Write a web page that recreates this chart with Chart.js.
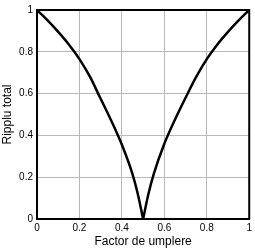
<!DOCTYPE html>
<html>
<head>
<meta charset="utf-8">
<script src="https://cdn.jsdelivr.net/npm/chart.js@4.4.1/dist/chart.umd.min.js"></script>
<style>
  html, body { margin: 0; padding: 0; background: #fff; }
  #wrap { width: 255px; height: 249px; }
</style>
</head>
<body>
<div id="wrap"><canvas id="myChart" width="255" height="249"></canvas></div>
<script>
// duty factor (x) and total ripple (y)
const factor = [0, 0.05, 0.1, 0.15, 0.2, 0.25, 0.3, 0.35, 0.4, 0.45, 0.475, 0.5,
                0.525, 0.55, 0.6, 0.65, 0.7, 0.75, 0.8, 0.85, 0.9, 0.95, 1];
const ripple = [1, 0.95, 0.895, 0.835, 0.765, 0.68, 0.575, 0.47, 0.355, 0.215, 0.12, 0,
                0.12, 0.215, 0.36, 0.475, 0.58, 0.68, 0.765, 0.835, 0.895, 0.95, 1];
const tickValues = [0, 0.2, 0.4, 0.6, 0.8, 1];

const points = factor.map((x, i) => ({ x: x, y: ripple[i] }));
// two halves so the smoothing keeps the sharp tip at 0.5
const leftHalf = points.filter(p => p.x <= 0.5);
const rightHalf = points.filter(p => p.x >= 0.5);

// black frame round the plot area
const frame = {
  id: 'frame',
  afterDraw(chart) {
    const a = chart.chartArea;
    const ctx = chart.ctx;
    ctx.save();
    ctx.strokeStyle = '#000';
    ctx.lineWidth = 2;
    ctx.strokeRect(a.left, a.top, a.right - a.left, a.bottom - a.top);
    ctx.restore();
  }
};

const tickFont = { family: 'Liberation Sans', size: 10 };
const titleFont = { family: 'Liberation Sans', size: 12 };

const lineStyle = {
  borderColor: '#000',
  borderWidth: 2.5,
  pointRadius: 0,
  cubicInterpolationMode: 'monotone',
  fill: false
};

const config = {
  type: 'line',
  data: {
    datasets: [
      Object.assign({ data: leftHalf }, lineStyle),
      Object.assign({ data: rightHalf }, lineStyle)
    ]
  },
  options: {
    responsive: false,
    animation: false,
    layout: { padding: { top: 4, right: 2, left: 0, bottom: 0 } },
    plugins: { legend: { display: false }, tooltip: { enabled: false } },
    scales: {
      x: {
        type: 'linear', min: 0, max: 1,
        afterBuildTicks: s => { s.ticks = tickValues.map(v => ({ value: v })); },
        afterFit: s => { s.height = 30; },
        grid: { color: '#b8b8b8', lineWidth: 1, drawTicks: false },
        border: { display: false },
        ticks: { font: tickFont, color: '#000', padding: 3, maxRotation: 0,
                 callback: v => String(v) },
        title: { display: true, text: 'Factor de umplere', font: titleFont, color: '#000',
                 padding: { top: 0, bottom: 0 } }
      },
      y: {
        type: 'linear', min: 0, max: 1,
        afterBuildTicks: s => { s.ticks = tickValues.map(v => ({ value: v })); },
        afterFit: s => { s.width = 37; },
        grid: { color: '#b8b8b8', lineWidth: 1, drawTicks: false },
        border: { display: false },
        ticks: { font: tickFont, color: '#000', padding: 4,
                 callback: v => String(v) },
        title: { display: true, text: 'Ripplu total', font: titleFont, color: '#000',
                 padding: { top: 0, bottom: 0 } }
      }
    }
  },
  plugins: [frame]
};

const myChart = new Chart(document.getElementById('myChart'), config);
</script>
</body>
</html>
